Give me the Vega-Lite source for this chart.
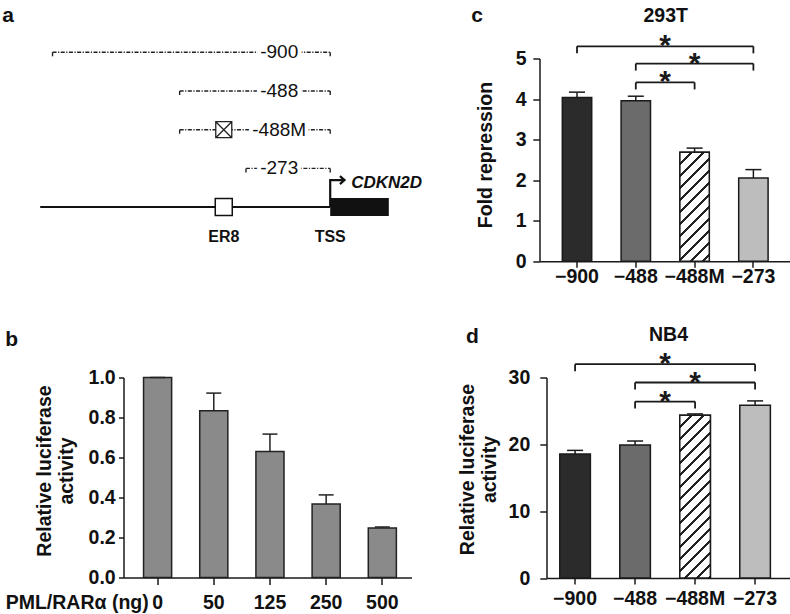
{
  "$schema": "https://vega.github.io/schema/vega-lite/v6.json",
  "padding": {"left": 1.5, "top": 4.5, "right": 0, "bottom": 0},
  "background": "white",
  "spacing": 38,
  "config": {
    "view": {"stroke": null},
    "font": "Liberation Sans",
    "axis": {"grid": false, "domainColor": "#1a1a1a", "domainWidth": 1.5, "tickColor": "#1a1a1a", "tickWidth": 1.5, "labelFont": "Liberation Sans", "labelFontSize": 19.5, "labelFontWeight": "bold", "labelColor": "#111111", "titleFont": "Liberation Sans", "titleFontSize": 19.5, "titleFontWeight": "bold", "titleColor": "#111111"},
    "title": {"font": "Liberation Sans", "fontSize": 21, "fontWeight": "bold", "color": "#111111", "anchor": "start", "frame": "bounds"}
  },
  "datasets": {
    "constructs": [
      {"construct": "-900", "start": -900, "end": 0, "track": 1, "mutation": null},
      {"construct": "-488", "start": -488, "end": 0, "track": 2, "mutation": null},
      {"construct": "-488M", "start": -488, "end": 0, "track": 3, "mutation": -345},
      {"construct": "-273", "start": -273, "end": 0, "track": 4, "mutation": null}
    ],
    "gene": [{"gene": "CDKN2D", "from": -940, "tss": 0, "to": 190, "track": 5}],
    "sites": [{"site": "ER8", "pos": -345, "track": 5}, {"site": "TSS", "pos": 0, "track": 5}],
    "dose": [
      {"dose": 0, "activity": 1.0, "upper": 1.0},
      {"dose": 50, "activity": 0.834, "upper": 0.922},
      {"dose": 125, "activity": 0.63, "upper": 0.717},
      {"dose": 250, "activity": 0.367, "upper": 0.413},
      {"dose": 500, "activity": 0.247, "upper": 0.253}
    ],
    "t293": [
      {"construct": "-900", "fold": 4.04, "upper": 4.17},
      {"construct": "-488", "fold": 3.96, "upper": 4.07},
      {"construct": "-488M", "fold": 2.69, "upper": 2.79},
      {"construct": "-273", "fold": 2.05, "upper": 2.26}
    ],
    "nb4": [
      {"construct": "-900", "activity": 18.55, "upper": 19.1},
      {"construct": "-488", "activity": 19.9, "upper": 20.5},
      {"construct": "-488M", "activity": 24.35, "upper": 24.55},
      {"construct": "-273", "activity": 25.85, "upper": 26.5}
    ],
    "sig293": [
      {"from": "-900", "to": "-273", "level": 5.30, "label": "*"},
      {"from": "-488", "to": "-273", "level": 4.875, "label": "*"},
      {"from": "-488", "to": "-488M", "level": 4.41, "label": "*"}
    ],
    "signb4": [
      {"from": "-900", "to": "-273", "level": 32.0, "label": "*"},
      {"from": "-488", "to": "-273", "level": 29.25, "label": "*"},
      {"from": "-488", "to": "-488M", "level": 26.4, "label": "*"}
    ]
  },
  "vconcat": [
    {
      "spacing": 48,
      "hconcat": [
        {
          "width": 290, "height": 193.5,
          "title": {"text": "a", "dx": -37, "dy": -13.3},
          "layer": [
            {"data": {"name": "constructs"},
             "mark": {"type": "rule", "color": "#222222", "strokeWidth": 1.4, "strokeDash": [4, 1.5, 1.2, 1.5]},
             "encoding": {
               "x": {"field": "start", "type": "quantitative", "scale": {"domain": [-670, 270], "nice": false, "zero": false}, "axis": null},
               "x2": {"field": "end"},
               "y": {"field": "track", "type": "quantitative", "scale": {"domain": [1.16, 6.16], "reverse": true, "nice": false, "zero": false}, "axis": null}
             }},
            {"data": {"name": "constructs"},
             "mark": {"type": "point", "shape": "M0,0L0,1", "size": 64, "stroke": "#222222", "strokeWidth": 1.4, "opacity": 1},
             "encoding": {"x": {"field": "start", "type": "quantitative"}, "y": {"field": "track", "type": "quantitative"}}},
            {"data": {"name": "constructs"},
             "mark": {"type": "point", "shape": "M0,0L0,1", "size": 64, "stroke": "#222222", "strokeWidth": 1.4, "opacity": 1},
             "encoding": {"x": {"field": "end", "type": "quantitative"}, "y": {"field": "track", "type": "quantitative"}}},
            {"data": {"name": "constructs"},
             "mark": {"type": "text", "dx": -51, "fontSize": 19, "baseline": "middle", "align": "center", "fill": "white", "stroke": "white", "strokeWidth": 8, "strokeJoin": "round"},
             "encoding": {"x": {"field": "end", "type": "quantitative"}, "y": {"field": "track", "type": "quantitative"}, "text": {"field": "construct"}}},
            {"data": {"name": "constructs"},
             "mark": {"type": "text", "dx": -51, "fontSize": 19, "baseline": "middle", "align": "center", "fill": "#111111"},
             "encoding": {"x": {"field": "end", "type": "quantitative"}, "y": {"field": "track", "type": "quantitative"}, "text": {"field": "construct"}}},
            {"data": {"name": "constructs"},
             "transform": [{"filter": "isValid(datum.mutation)"}],
             "mark": {"type": "point", "shape": "M-1,-1L1,-1L1,1L-1,1ZM-1,-1L1,1M1,-1L-1,1", "size": 256, "filled": true, "fill": "white", "stroke": "#222222", "strokeWidth": 1.3, "opacity": 1},
             "encoding": {"x": {"field": "mutation", "type": "quantitative"}, "y": {"field": "track", "type": "quantitative"}}},
            {"data": {"name": "gene"},
             "mark": {"type": "rule", "color": "#111111", "strokeWidth": 2},
             "encoding": {"x": {"field": "from", "type": "quantitative"}, "x2": {"field": "tss"}, "y": {"field": "track", "type": "quantitative"}}},
            {"data": {"name": "gene"},
             "mark": {"type": "point", "shape": "M0,0L0,-1L0.5,-1M0.36,-1.15L0.53,-1L0.36,-0.85", "size": 2916, "filled": false, "stroke": "#111111", "strokeWidth": 2.2, "opacity": 1},
             "encoding": {"x": {"field": "tss", "type": "quantitative"}, "y": {"field": "track", "type": "quantitative"}}},
            {"data": {"name": "gene"},
             "mark": {"type": "rule", "color": "#111111", "strokeWidth": 18, "strokeCap": "butt"},
             "encoding": {"x": {"field": "tss", "type": "quantitative"}, "x2": {"field": "to"}, "y": {"field": "track", "type": "quantitative"}}},
            {"data": {"name": "sites"},
             "transform": [{"filter": "datum.site === 'ER8'"}],
             "mark": {"type": "point", "shape": "square", "size": 289, "filled": true, "fill": "white", "stroke": "#111111", "strokeWidth": 1.5, "opacity": 1},
             "encoding": {"x": {"field": "pos", "type": "quantitative"}, "y": {"field": "track", "type": "quantitative"}}},
            {"data": {"name": "sites"},
             "mark": {"type": "text", "fontSize": 16, "fontWeight": "bold", "baseline": "middle", "align": "center", "dy": 30, "fill": "#111111"},
             "encoding": {"x": {"field": "pos", "type": "quantitative"}, "y": {"field": "track", "type": "quantitative"}, "text": {"field": "site"}}},
            {"data": {"name": "gene"},
             "mark": {"type": "text", "fontSize": 17, "fontWeight": "bold", "fontStyle": "italic", "baseline": "middle", "align": "left", "dx": 21, "dy": -24, "fill": "#111111"},
             "encoding": {"x": {"field": "tss", "type": "quantitative"}, "y": {"field": "track", "type": "quantitative"}, "text": {"field": "gene"}}}
          ]
        },
        {
          "width": 251.4, "height": 202.75,
          "title": {"text": "c", "dx": -4, "dy": 24.7},
          "resolve": {"axis": {"x": "independent", "y": "independent"}},
          "layer": [
            {"data": {"name": "t293"},
             "mark": {"type": "bar", "stroke": "#1a1a1a", "strokeWidth": 1.5},
             "encoding": {
               "x": {"field": "construct", "type": "nominal", "scale": {"domain": ["-900", "-488", "-488M", "-273"], "paddingInner": 0.5, "paddingOuter": 0.388, "round": false},
                     "axis": {"orient": "bottom", "title": null, "labelAngle": 0, "tickSize": 6, "labelPadding": 0, "labelExpr": "replace(datum.label, '-', '−')"}},
               "y": {"field": "fold", "type": "quantitative", "scale": {"domain": [0, 5]},
                     "axis": {"orient": "left", "values": [0, 1, 2, 3, 4, 5], "tickSize": 6.7, "labelPadding": 6.6, "title": "Fold repression", "titleX": -48.3, "titleY": 96, "titleBaseline": "alphabetic", "titleAlign": "center", "titleAngle": -90}},
               "fill": {"field": "construct", "type": "nominal", "scale": {"domain": ["-900", "-488", "-488M", "-273"], "range": ["#2b2b2b", "#6b6b6b", "#ffffff", "#bdbdbd"]}, "legend": null}
             }},
            {"data": {"name": "t293"},
             "transform": [{"filter": "datum.construct === '-488M'"}],
             "mark": {"type": "bar", "stroke": "#1a1a1a", "strokeWidth": 1.5,
               "fill": {"gradient": "linear", "x1": 0, "y1": 0, "x2": 0.3189, "y2": 1.1835, "stops": [
                 {"offset": 0, "color": "#ffffff"},
                 {"offset": 0.0780, "color": "#ffffff"}, {"offset": 0.0780, "color": "#222222"}, {"offset": 0.0953, "color": "#222222"}, {"offset": 0.0953, "color": "#ffffff"},
                 {"offset": 0.1646, "color": "#ffffff"}, {"offset": 0.1646, "color": "#222222"}, {"offset": 0.1819, "color": "#222222"}, {"offset": 0.1819, "color": "#ffffff"},
                 {"offset": 0.2513, "color": "#ffffff"}, {"offset": 0.2513, "color": "#222222"}, {"offset": 0.2686, "color": "#222222"}, {"offset": 0.2686, "color": "#ffffff"},
                 {"offset": 0.3379, "color": "#ffffff"}, {"offset": 0.3379, "color": "#222222"}, {"offset": 0.3552, "color": "#222222"}, {"offset": 0.3552, "color": "#ffffff"},
                 {"offset": 0.4245, "color": "#ffffff"}, {"offset": 0.4245, "color": "#222222"}, {"offset": 0.4419, "color": "#222222"}, {"offset": 0.4419, "color": "#ffffff"},
                 {"offset": 0.5112, "color": "#ffffff"}, {"offset": 0.5112, "color": "#222222"}, {"offset": 0.5285, "color": "#222222"}, {"offset": 0.5285, "color": "#ffffff"},
                 {"offset": 0.5978, "color": "#ffffff"}, {"offset": 0.5978, "color": "#222222"}, {"offset": 0.6152, "color": "#222222"}, {"offset": 0.6152, "color": "#ffffff"},
                 {"offset": 0.6845, "color": "#ffffff"}, {"offset": 0.6845, "color": "#222222"}, {"offset": 0.7018, "color": "#222222"}, {"offset": 0.7018, "color": "#ffffff"},
                 {"offset": 0.7711, "color": "#ffffff"}, {"offset": 0.7711, "color": "#222222"}, {"offset": 0.7884, "color": "#222222"}, {"offset": 0.7884, "color": "#ffffff"},
                 {"offset": 0.8578, "color": "#ffffff"}, {"offset": 0.8578, "color": "#222222"}, {"offset": 0.8751, "color": "#222222"}, {"offset": 0.8751, "color": "#ffffff"},
                 {"offset": 0.9444, "color": "#ffffff"}, {"offset": 0.9444, "color": "#222222"}, {"offset": 0.9617, "color": "#222222"}, {"offset": 0.9617, "color": "#ffffff"},
                 {"offset": 1, "color": "#ffffff"}]}},
             "encoding": {"x": {"field": "construct", "type": "nominal", "axis": null}, "y": {"field": "fold", "type": "quantitative", "axis": null}}},
            {"data": {"name": "t293"},
             "mark": {"type": "rule", "color": "#1a1a1a", "strokeWidth": 1.5},
             "encoding": {"x": {"field": "construct", "type": "nominal", "axis": null}, "y": {"field": "fold", "type": "quantitative", "axis": null}, "y2": {"field": "upper"}}},
            {"data": {"name": "t293"},
             "mark": {"type": "tick", "color": "#1a1a1a", "thickness": 1.5, "size": 16, "opacity": 1},
             "encoding": {"x": {"field": "construct", "type": "nominal", "axis": null}, "y": {"field": "upper", "type": "quantitative", "axis": null}}},
            {"data": {"name": "sig293"},
             "mark": {"type": "rule", "color": "#1a1a1a", "strokeWidth": 1.8},
             "encoding": {
               "x": {"field": "from", "type": "nominal", "axis": {"orient": "top", "title": "293T", "domain": false, "ticks": false, "labels": false, "titlePadding": 33}},
               "x2": {"field": "to"},
               "y": {"field": "level", "type": "quantitative", "axis": null}}},
            {"data": {"name": "sig293"},
             "mark": {"type": "point", "shape": "M0,0L0,1", "size": 196, "stroke": "#1a1a1a", "strokeWidth": 1.8, "opacity": 1},
             "encoding": {"x": {"field": "from", "type": "nominal", "axis": null}, "y": {"field": "level", "type": "quantitative", "axis": null}}},
            {"data": {"name": "sig293"},
             "mark": {"type": "point", "shape": "M0,0L0,1", "size": 196, "stroke": "#1a1a1a", "strokeWidth": 1.8, "opacity": 1},
             "encoding": {"x": {"field": "to", "type": "nominal", "axis": null}, "y": {"field": "level", "type": "quantitative", "axis": null}}},
            {"data": {"name": "sig293"},
             "mark": {"type": "text", "fontSize": 30, "fontWeight": "bold", "baseline": "middle", "align": "center", "fill": "#1a1a1a",
               "dx": {"expr": "(indexof(['-900','-488','-488M','-273'], datum.to) - indexof(['-900','-488','-488M','-273'], datum.from)) * 29.4"}},
             "encoding": {"x": {"field": "from", "type": "nominal", "axis": null}, "y": {"field": "level", "type": "quantitative", "axis": null}, "text": {"field": "label"}}}
          ]
        }
      ]
    },
    {
      "spacing": 45,
      "hconcat": [
        {
          "width": 288, "height": 200,
          "title": {"text": "b", "dy": -14},
          "data": {"name": "dose"},
          "resolve": {"axis": {"x": "independent", "y": "independent"}},
          "layer": [
            {"mark": {"type": "bar", "fill": "#8a8a8a", "stroke": "#222222", "strokeWidth": 1.5},
             "encoding": {
               "x": {"field": "dose", "type": "ordinal", "scale": {"paddingInner": 0.5, "paddingOuter": 0.313, "align": 0.57, "round": false},
                     "axis": {"orient": "bottom", "title": "PML/RARα (ng)", "labelAngle": 0, "tickSize": 7, "labelPadding": 9, "titleX": 24.7, "titleY": 16, "titleAlign": "right", "titleBaseline": "top"}},
               "y": {"field": "activity", "type": "quantitative", "scale": {"domain": [0, 1]},
                     "axis": {"orient": "left", "values": [0, 0.2, 0.4, 0.6, 0.8, 1], "format": ".1f", "tickSize": 5, "labelPadding": 3.3, "title": ["Relative luciferase", "activity"], "titleX": -73.5, "titleY": 93, "titleBaseline": "alphabetic", "titleAlign": "center", "titleAngle": -90, "titleLineHeight": 22}}
             }},
            {"mark": {"type": "rule", "color": "#222222", "strokeWidth": 1.5},
             "encoding": {"x": {"field": "dose", "type": "ordinal", "axis": null}, "y": {"field": "activity", "type": "quantitative", "axis": null}, "y2": {"field": "upper"}}},
            {"mark": {"type": "tick", "color": "#222222", "thickness": 1.5, "size": 15, "opacity": 1},
             "encoding": {"x": {"field": "dose", "type": "ordinal", "axis": null}, "y": {"field": "upper", "type": "quantitative", "axis": null}}}
          ]
        },
        {
          "width": 243, "height": 200.6,
          "title": {"text": "d", "dx": 9, "dy": 26},
          "resolve": {"axis": {"x": "independent", "y": "independent"}},
          "layer": [
            {"data": {"name": "nb4"},
             "mark": {"type": "bar", "stroke": "#1a1a1a", "strokeWidth": 1.5},
             "encoding": {
               "x": {"field": "construct", "type": "nominal", "scale": {"domain": ["-900", "-488", "-488M", "-273"], "paddingInner": 0.49, "paddingOuter": 0.27, "align": 0.41, "round": false},
                     "axis": {"orient": "bottom", "title": null, "labelAngle": 0, "tickSize": 6, "labelPadding": 5.3, "labelExpr": "replace(datum.label, '-', '−')"}},
               "y": {"field": "activity", "type": "quantitative", "scale": {"domain": [0, 30]},
                     "axis": {"orient": "left", "values": [0, 10, 20, 30], "tickSize": 6.7, "labelPadding": 10, "title": ["Relative luciferase", "activity"], "titleX": -73.5, "titleY": 91.5, "titleBaseline": "alphabetic", "titleAlign": "center", "titleAngle": -90, "titleLineHeight": 22}},
               "fill": {"field": "construct", "type": "nominal", "scale": {"domain": ["-900", "-488", "-488M", "-273"], "range": ["#2b2b2b", "#6b6b6b", "#ffffff", "#bdbdbd"]}, "legend": null}
             }},
            {"data": {"name": "nb4"},
             "transform": [{"filter": "datum.construct === '-488M'"}],
             "mark": {"type": "bar", "stroke": "#1a1a1a", "strokeWidth": 1.5,
               "fill": {"gradient": "linear", "x1": 0, "y1": 0, "x2": 0.2157, "y2": 1.1474, "stops": [
                 {"offset": 0, "color": "#ffffff"},
                 {"offset": 0.0558, "color": "#ffffff"}, {"offset": 0.0558, "color": "#222222"}, {"offset": 0.0683, "color": "#222222"}, {"offset": 0.0683, "color": "#ffffff"},
                 {"offset": 0.1179, "color": "#ffffff"}, {"offset": 0.1179, "color": "#222222"}, {"offset": 0.1303, "color": "#222222"}, {"offset": 0.1303, "color": "#ffffff"},
                 {"offset": 0.1799, "color": "#ffffff"}, {"offset": 0.1799, "color": "#222222"}, {"offset": 0.1923, "color": "#222222"}, {"offset": 0.1923, "color": "#ffffff"},
                 {"offset": 0.2420, "color": "#ffffff"}, {"offset": 0.2420, "color": "#222222"}, {"offset": 0.2544, "color": "#222222"}, {"offset": 0.2544, "color": "#ffffff"},
                 {"offset": 0.3040, "color": "#ffffff"}, {"offset": 0.3040, "color": "#222222"}, {"offset": 0.3164, "color": "#222222"}, {"offset": 0.3164, "color": "#ffffff"},
                 {"offset": 0.3661, "color": "#ffffff"}, {"offset": 0.3661, "color": "#222222"}, {"offset": 0.3785, "color": "#222222"}, {"offset": 0.3785, "color": "#ffffff"},
                 {"offset": 0.4281, "color": "#ffffff"}, {"offset": 0.4281, "color": "#222222"}, {"offset": 0.4405, "color": "#222222"}, {"offset": 0.4405, "color": "#ffffff"},
                 {"offset": 0.4902, "color": "#ffffff"}, {"offset": 0.4902, "color": "#222222"}, {"offset": 0.5026, "color": "#222222"}, {"offset": 0.5026, "color": "#ffffff"},
                 {"offset": 0.5522, "color": "#ffffff"}, {"offset": 0.5522, "color": "#222222"}, {"offset": 0.5646, "color": "#222222"}, {"offset": 0.5646, "color": "#ffffff"},
                 {"offset": 0.6143, "color": "#ffffff"}, {"offset": 0.6143, "color": "#222222"}, {"offset": 0.6267, "color": "#222222"}, {"offset": 0.6267, "color": "#ffffff"},
                 {"offset": 0.6763, "color": "#ffffff"}, {"offset": 0.6763, "color": "#222222"}, {"offset": 0.6887, "color": "#222222"}, {"offset": 0.6887, "color": "#ffffff"},
                 {"offset": 0.7384, "color": "#ffffff"}, {"offset": 0.7384, "color": "#222222"}, {"offset": 0.7508, "color": "#222222"}, {"offset": 0.7508, "color": "#ffffff"},
                 {"offset": 0.8004, "color": "#ffffff"}, {"offset": 0.8004, "color": "#222222"}, {"offset": 0.8128, "color": "#222222"}, {"offset": 0.8128, "color": "#ffffff"},
                 {"offset": 0.8625, "color": "#ffffff"}, {"offset": 0.8625, "color": "#222222"}, {"offset": 0.8749, "color": "#222222"}, {"offset": 0.8749, "color": "#ffffff"},
                 {"offset": 0.9245, "color": "#ffffff"}, {"offset": 0.9245, "color": "#222222"}, {"offset": 0.9369, "color": "#222222"}, {"offset": 0.9369, "color": "#ffffff"},
                 {"offset": 0.9866, "color": "#ffffff"}, {"offset": 0.9866, "color": "#222222"}, {"offset": 0.9990, "color": "#222222"}, {"offset": 0.9990, "color": "#ffffff"},
                 {"offset": 1, "color": "#ffffff"}]}},
             "encoding": {"x": {"field": "construct", "type": "nominal", "axis": null}, "y": {"field": "activity", "type": "quantitative", "axis": null}}},
            {"data": {"name": "nb4"},
             "mark": {"type": "rule", "color": "#1a1a1a", "strokeWidth": 1.5},
             "encoding": {"x": {"field": "construct", "type": "nominal", "axis": null}, "y": {"field": "activity", "type": "quantitative", "axis": null}, "y2": {"field": "upper"}}},
            {"data": {"name": "nb4"},
             "mark": {"type": "tick", "color": "#1a1a1a", "thickness": 1.5, "size": 16, "opacity": 1},
             "encoding": {"x": {"field": "construct", "type": "nominal", "axis": null}, "y": {"field": "upper", "type": "quantitative", "axis": null}}},
            {"data": {"name": "signb4"},
             "mark": {"type": "rule", "color": "#1a1a1a", "strokeWidth": 1.8},
             "encoding": {
               "x": {"field": "from", "type": "nominal", "axis": {"orient": "top", "title": "NB4", "domain": false, "ticks": false, "labels": false, "titlePadding": 33}},
               "x2": {"field": "to"},
               "y": {"field": "level", "type": "quantitative", "axis": null}}},
            {"data": {"name": "signb4"},
             "mark": {"type": "point", "shape": "M0,0L0,1", "size": 196, "stroke": "#1a1a1a", "strokeWidth": 1.8, "opacity": 1},
             "encoding": {"x": {"field": "from", "type": "nominal", "axis": null}, "y": {"field": "level", "type": "quantitative", "axis": null}}},
            {"data": {"name": "signb4"},
             "mark": {"type": "point", "shape": "M0,0L0,1", "size": 196, "stroke": "#1a1a1a", "strokeWidth": 1.8, "opacity": 1},
             "encoding": {"x": {"field": "to", "type": "nominal", "axis": null}, "y": {"field": "level", "type": "quantitative", "axis": null}}},
            {"data": {"name": "signb4"},
             "mark": {"type": "text", "fontSize": 30, "fontWeight": "bold", "baseline": "middle", "align": "center", "fill": "#1a1a1a",
               "dx": {"expr": "(indexof(['-900','-488','-488M','-273'], datum.to) - indexof(['-900','-488','-488M','-273'], datum.from)) * 30"}},
             "encoding": {"x": {"field": "from", "type": "nominal", "axis": null}, "y": {"field": "level", "type": "quantitative", "axis": null}, "text": {"field": "label"}}}
          ]
        }
      ]
    }
  ]
}
